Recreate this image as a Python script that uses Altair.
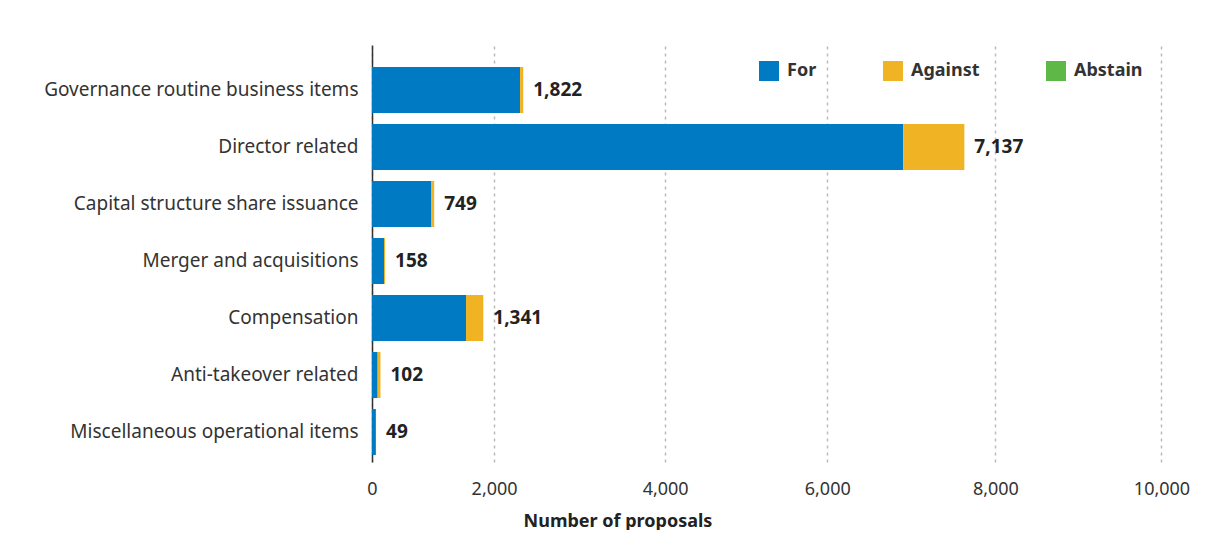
import altair as alt
import pandas as pd

categories = [
    "Governance routine business items",
    "Director related",
    "Capital structure share issuance",
    "Merger and acquisitions",
    "Compensation",
    "Anti-takeover related",
    "Miscellaneous operational items",
]
for_vals = [1784, 6401, 711, 145, 1133, 68, 47]
against_vals = [38, 736, 38, 13, 208, 34, 2]
abstain_vals = [0, 0, 0, 0, 0, 0, 0]
totals = [1822, 7137, 749, 158, 1341, 102, 49]
total_labels = ["1,822", "7,137", "749", "158", "1,341", "102", "49"]
responses = ["For", "Against", "Abstain"]
colors = ["#007AC2", "#F0B323", "#5DB847"]
tick_positions = [0, 1471, 3532, 5485, 7511, 9512]
tick_labels = ["0", "2,000", "4,000", "6,000", "8,000", "10,000"]

rows = []
for i, c in enumerate(categories):
    for j, (r, vals) in enumerate(zip(responses, [for_vals, against_vals, abstain_vals])):
        rows.append({"category": c, "response": r, "value": vals[i], "order": j})
bars_df = pd.DataFrame(rows)
tot_df = pd.DataFrame({"category": categories, "total": totals, "label": total_labels})

FONT = "Noto Sans"
label_expr = "[" + ",".join(f"'{t}'" for t in tick_labels) + "][indexof([" + ",".join(str(p) for p in tick_positions) + "], datum.value)]"

x_axis = alt.Axis(
    values=tick_positions,
    labelExpr=label_expr,
    labelFlush=False,
    grid=True,
    gridDash=[3, 4],
    gridColor="#bbbbbb",
    gridWidth=1.5,
    domain=False,
    ticks=False,
    labelFontSize=18,
    labelColor="#333333",
    labelPadding=18,
    title="Number of proposals",
    titleFontSize=18,
    titleFontWeight="bold",
    titleColor="#222222",
    titleX=245.5,
    titleY=64,
    titleAlign="center",
    titleBaseline="alphabetic",
)
x_scale = alt.Scale(domain=[0, 10000], nice=False)
y_enc = alt.Y(
    "category:N",
    sort=categories,
    title=None,
    scale=alt.Scale(paddingInner=0.193, paddingOuter=0.254, align=0.76),
    axis=alt.Axis(
        ticks=False,
        domainColor="#333333",
        domainWidth=1.5,
        labelFontSize=19,
        labelColor="#333333",
        labelPadding=14,
        labelLimit=400,
        minExtent=364,
        maxExtent=364,
    ),
)

bars = alt.Chart(bars_df).mark_bar().encode(
    x=alt.X("value:Q", stack="zero", scale=x_scale, axis=x_axis),
    y=y_enc,
    color=alt.Color(
        "response:N",
        scale=alt.Scale(domain=responses, range=colors),
        legend=alt.Legend(
            orient="none",
            legendX=387,
            legendY=16,
            direction="horizontal",
            title=None,
            symbolType="square",
            symbolSize=400,
            symbolStrokeWidth=0,
            labelFontSize=18,
            labelFontWeight="bold",
            labelColor="#333333",
            labelOffset=8,
            columnPadding=66,
            padding=0,
        ),
    ),
    order=alt.Order("order:Q"),
)

text = alt.Chart(tot_df).mark_text(
    align="left", baseline="middle", dx=10, fontSize=19, fontWeight="bold", color="#222222"
).encode(
    x=alt.X("total:Q", scale=x_scale, axis=x_axis),
    y=y_enc,
    text="label:N",
)

chart = (
    alt.layer(bars, text)
    .properties(
        width=830,
        height=417,
        padding={"top": 37, "left": 0, "right": 0, "bottom": 0},
        background="white",
    )
    .configure(font=FONT)
    .configure_view(stroke=None)
)

chart.save("out.html", embed_options={"renderer": "svg", "actions": False})
